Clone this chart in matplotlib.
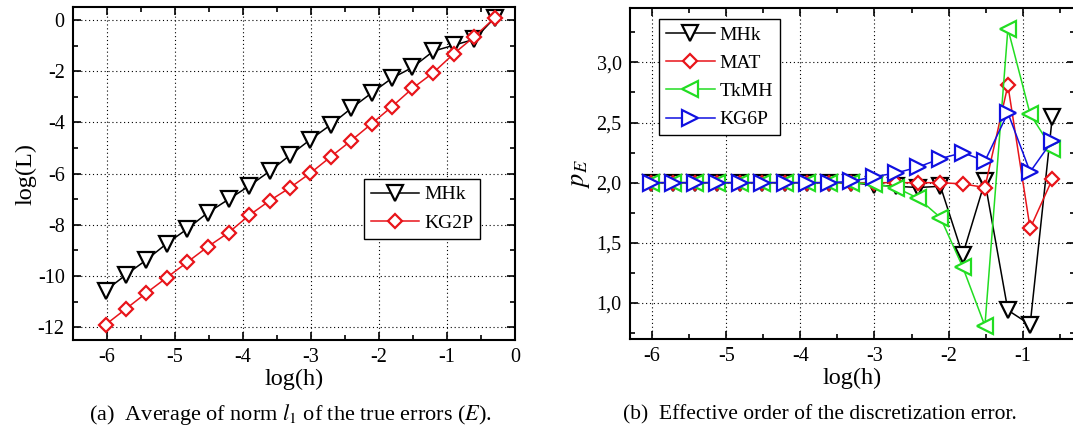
import numpy as np
import matplotlib
matplotlib.use("Agg")
import matplotlib.pyplot as plt
from matplotlib.ticker import MultipleLocator, FuncFormatter

plt.rcParams['font.family'] = ['Liberation Serif', 'DejaVu Serif']
plt.rcParams['mathtext.fontset'] = 'stix'
plt.rcParams['axes.unicode_minus'] = False

# log(h), h = 2^-k
log_h = [-6.02, -5.72, -5.42, -5.12, -4.82, -4.52, -4.21, -3.91, -3.61, -3.31,
         -3.01, -2.71, -2.41, -2.11, -1.81, -1.51, -1.20, -0.90, -0.60, -0.30]

# (a) log of average l1 norm of true errors
mhk_L = [-10.57, -9.95, -9.37, -8.73, -8.16, -7.53, -7.0, -6.48, -5.91, -5.28,
         -4.67, -4.09, -3.45, -2.85, -2.27, -1.85, -1.21, -0.98, -0.75, 0.09]
kg2p_L = [-11.9, -11.28, -10.66, -10.06, -9.46, -8.86, -8.3, -7.63, -7.06, -6.55,
          -5.98, -5.34, -4.71, -4.05, -3.38, -2.67, -2.05, -1.31, -0.65, 0.09]

# (b) effective order p_E
log_h_b = log_h[:-1]
mhk_p = [2.0, 2.0, 2.0, 2.0, 2.0, 2.0, 2.0, 2.0, 2.0, 2.0,
         1.98, 1.97, 1.96, 1.97, 1.40, 2.01, 0.94, 0.82, 2.55]
mat_p = [2.0, 2.0, 2.0, 2.0, 2.0, 2.0, 2.0, 2.0, 2.0, 2.0,
         2.0, 2.0, 2.0, 2.0, 1.99, 1.96, 2.81, 1.62, 2.03]
tkmh_p = [2.0, 2.0, 2.0, 2.0, 2.0, 2.0, 2.0, 2.0, 2.0, 2.0,
          1.99, 1.96, 1.87, 1.71, 1.30, 0.81, 3.28, 2.57, 2.28]
kg6p_p = [2.0, 2.0, 2.0, 2.0, 2.0, 2.0, 2.0, 2.0, 2.0, 2.01,
          2.05, 2.08, 2.13, 2.20, 2.25, 2.18, 2.58, 2.09, 2.35]

BLACK = 'black'
RED = '#e8141a'
GREEN = '#22dd22'
BLUE = '#1010e0'


def style_axes(ax):
    for s in ax.spines.values():
        s.set_linewidth(1.5)
    ax.tick_params(which='both', direction='in', top=True, right=True,
                   labelsize=14.5, width=1.2, pad=6)
    ax.tick_params(which='major', length=6)
    ax.tick_params(which='minor', length=3.5)
    ax.grid(True, which='major', color='black', linestyle=(0, (1, 2.5)), linewidth=0.8)
    ax.set_axisbelow(True)


def series(ax, x, y, marker, color, label, ms):
    ax.plot(x, y, color=color, lw=1.1, marker=marker, ms=ms, mfc='white',
            mec=color, mew=1.6, label=label)


legend_kw = dict(fontsize=14, fancybox=False, edgecolor='black', framealpha=1,
                 handlelength=2.5, handletextpad=0.25, borderpad=0.35,
                 labelspacing=0.55, borderaxespad=0)

fig = plt.figure(figsize=(10.73, 4.32), dpi=100)

# ---- (a)
ax1 = fig.add_axes([0.068, 0.213, 0.412, 0.770])
series(ax1, log_h, mhk_L, 'v', BLACK, 'MHk', 11)
series(ax1, log_h, kg2p_L, 'D', RED, 'KG2P', 7)
ax1.set_xlim(-6.5, 0)
ax1.set_ylim(-12.5, 0.5)
ax1.xaxis.set_major_locator(MultipleLocator(1))
ax1.xaxis.set_minor_locator(MultipleLocator(0.5))
ax1.yaxis.set_major_locator(MultipleLocator(2))
ax1.yaxis.set_minor_locator(MultipleLocator(1))
style_axes(ax1)
ax1.set_xlabel('log(h)', fontsize=17.5, labelpad=1)
ax1.set_ylabel('log(L)', fontsize=17.5, labelpad=1)
leg1 = ax1.legend(loc='lower right', bbox_to_anchor=(0.921, 0.305), **legend_kw)
leg1.get_frame().set_linewidth(1.0)

# ---- (b)
ax2 = fig.add_axes([0.587, 0.215, 0.4145, 0.766])
series(ax2, log_h_b, mhk_p, 'v', BLACK, 'MHk', 11)
series(ax2, log_h_b, mat_p, 'D', RED, 'MAT', 7)
series(ax2, log_h_b, tkmh_p, '<', GREEN, 'TkMH', 11)
series(ax2, log_h_b, kg6p_p, '>', BLUE, 'KG6P', 11)
ax2.set_xlim(-6.3, -0.3)
ax2.set_ylim(0.7, 3.45)
ax2.xaxis.set_major_locator(MultipleLocator(1))
ax2.xaxis.set_minor_locator(MultipleLocator(0.5))
ax2.yaxis.set_major_locator(MultipleLocator(0.5))
ax2.yaxis.set_minor_locator(MultipleLocator(0.25))
ax2.yaxis.set_major_formatter(FuncFormatter(lambda v, p: f'{v:.1f}'.replace('.', ',')))
style_axes(ax2)
ax2.set_xlabel('log(h)', fontsize=17.5, labelpad=1)
ax2.set_ylabel('$p_E$', fontsize=19, labelpad=3)
leg2 = ax2.legend(loc='upper left', bbox_to_anchor=(0.066, 0.967), **legend_kw)
leg2.get_frame().set_linewidth(1.0)

# captions
fig.text(0.271, 0.04, '(a)  Average of norm $l_1$ of the true errors ($E$).',
         ha='center', va='center', fontsize=16)
fig.text(0.764, 0.04, '(b)  Effective order of the discretization error.',
         ha='center', va='center', fontsize=15.5)

fig.savefig('out.png', dpi=100)
